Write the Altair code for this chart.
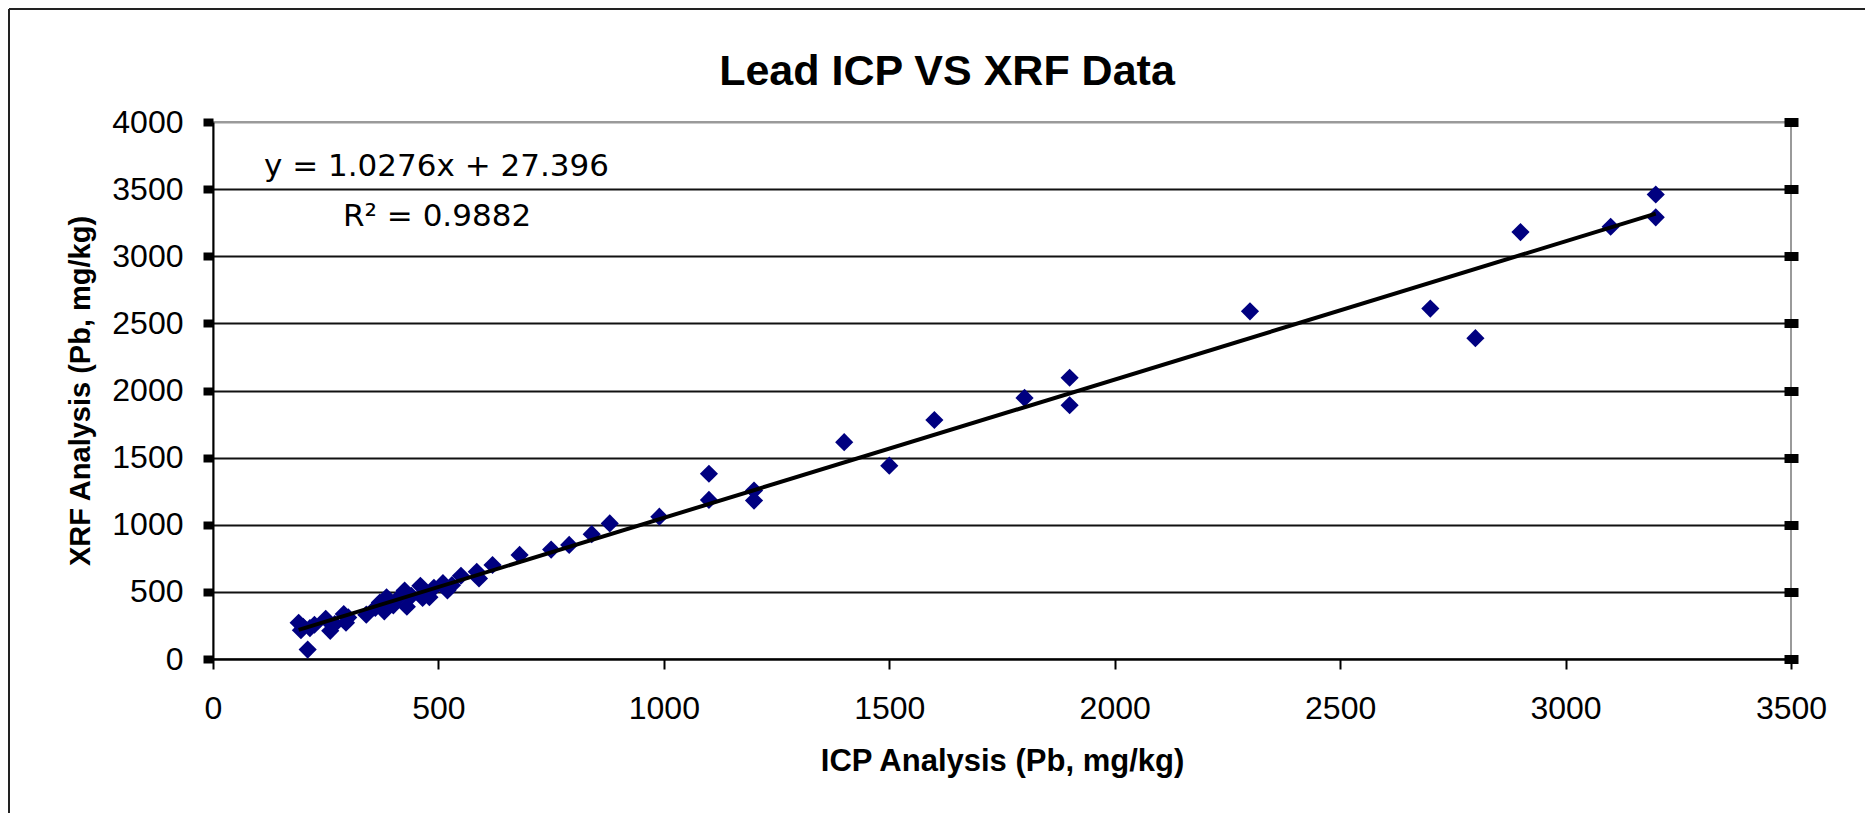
import altair as alt
import pandas as pd

icp = [190, 195, 200, 210, 215, 225, 250, 260, 270, 290, 295, 300, 340, 360,
       370, 380, 385, 400, 410, 425, 430, 440, 460, 465, 480, 490, 510, 520,
       530, 550, 585, 590, 620, 680, 750, 790, 840, 880, 990, 1100, 1100,
       1200, 1200, 1400, 1500, 1600, 1800, 1900, 1900, 2300, 2700, 2800,
       2900, 3100, 3200, 3200]
xrf = [270, 215, 240, 70, 230, 255, 300, 210, 260, 335, 270, 310, 330, 380,
       420, 355, 460, 400, 450, 510, 390, 470, 545, 455, 460, 530, 565, 510,
       550, 620, 650, 600, 700, 775, 815, 850, 930, 1010, 1060, 1380, 1185,
       1255, 1180, 1615, 1440, 1780, 1945, 2095, 1890, 2590, 2610, 2390,
       3180, 3220, 3460, 3290]

x_ticks = [0, 500, 1000, 1500, 2000, 2500, 3000, 3500]
y_ticks = [0, 500, 1000, 1500, 2000, 2500, 3000, 3500, 4000]

title_text = "Lead ICP VS XRF Data"
x_title = "ICP Analysis (Pb, mg/kg)"
y_title = "XRF Analysis (Pb, mg/kg)"
eq_text = "y = 1.0276x + 27.396"
r2_text = "R² = 0.9882"

df = pd.DataFrame({"icp": icp, "xrf": xrf})
one = pd.DataFrame({"k": [0]})

FONT = "Liberation Sans"
EQ_FONT = "DejaVu Sans"

x_axis = alt.Axis(
    values=x_ticks, format="d", title=x_title, grid=False, domainColor="black",
    domainWidth=2, tickColor="black", tickWidth=2, tickSize=10,
    labelFlush=False, labelOverlap=False,
    labelPadding=24, labelFontSize=32, labelFont=FONT, labelColor="black",
    titleFont=FONT, titleFontSize=31, titleFontWeight="bold",
    titleColor="black", titlePadding=22,
)
x_enc = alt.X("icp:Q", scale=alt.Scale(domain=[0, 3500], nice=False, zero=True),
              axis=x_axis)

y_axis_left = alt.Axis(
    values=y_ticks, format="d", title=y_title, orient="left",
    grid=True, labelFlush=False, labelOverlap=False,
    gridColor=alt.condition("datum.value == 4000", alt.value("#9a9a9a"), alt.value("#111111")),
    gridWidth=2,
    domainColor="black", domainWidth=2, tickColor="black", tickWidth=8,
    tickSize=10, labelPadding=20, labelFontSize=32, labelFont=FONT,
    labelColor="black", titleFont=FONT, titleFontSize=29,
    titleFontWeight="bold", titleColor="black", titlePadding=16,
)
y_axis_right = alt.Axis(
    values=y_ticks, title=None, orient="right", labels=False, grid=False,
    domain=False, tickColor="black", tickWidth=9, tickSize=14, offset=-7,
)

y_scale = alt.Scale(domain=[0, 4000], nice=False)

points = alt.Chart(df).mark_point(
    shape="diamond", filled=True, size=330, color="#000080", opacity=1
).encode(
    x=x_enc,
    y=alt.Y("xrf:Q", scale=y_scale, axis=y_axis_left),
)

trend = alt.Chart(df).transform_regression("icp", "xrf").mark_line(
    color="black", strokeWidth=4
).encode(
    x=x_enc,
    y=alt.Y("xrf:Q", scale=y_scale, axis=y_axis_right),
)

eq = alt.Chart(one).mark_text(
    align="left", baseline="middle", font=EQ_FONT, fontSize=31, color="black"
).encode(x=alt.value(51), y=alt.value(45), text=alt.value(eq_text))

r2 = alt.Chart(one).mark_text(
    align="left", baseline="middle", font=EQ_FONT, fontSize=31, color="black"
).encode(x=alt.value(130), y=alt.value(95), text=alt.value(r2_text))

title = alt.Chart(one).mark_text(
    align="center", baseline="alphabetic", font=FONT, fontSize=43,
    fontWeight="bold", color="black"
).encode(x=alt.value(734), y=alt.value(-37), text=alt.value(title_text))

frame_left = alt.Chart(one).mark_rule(color="#222", strokeWidth=2).encode(
    x=alt.value(-204), y=alt.value(-113), y2=alt.value(800)
)
frame_top = alt.Chart(one).mark_rule(color="#222", strokeWidth=2).encode(
    y=alt.value(-113), x=alt.value(-204), x2=alt.value(1652)
)

chart = alt.layer(points, trend, eq, r2, title, frame_left, frame_top).resolve_axis(
    y="independent"
).properties(
    width=1578,
    height=537,
    autosize=alt.AutoSizeParams(type="none"),
    padding={"left": 205, "top": 114, "right": 74, "bottom": 154},
    background="white",
).configure_view(
    stroke="#9a9a9a", strokeWidth=2
)

chart.save("out.html", embed_options={"renderer": "svg", "actions": False})
